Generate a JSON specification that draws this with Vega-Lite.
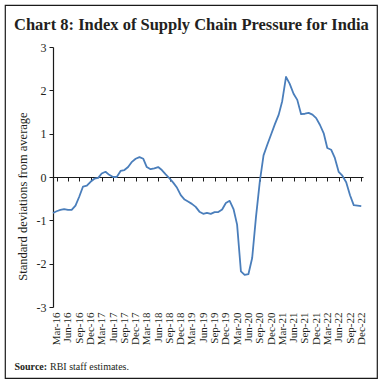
{
  "$schema": "https://vega.github.io/schema/vega-lite/v6.json",
  "width": 372,
  "height": 373,
  "autosize": {"type": "none"},
  "padding": {"left": 5, "top": 5, "right": 5, "bottom": 5},
  "background": "white",
  "config": {
    "view": {"stroke": "#1a1a1a", "strokeWidth": 1.2},
    "font": "Liberation Serif"
  },
  "title": {
    "text": "Chart 8: Index of Supply Chain Pressure for India",
    "anchor": "start",
    "frame": "group",
    "font": "Liberation Serif",
    "fontSize": 16.5,
    "fontWeight": "bold",
    "color": "#231f20",
    "baseline": "alphabetic",
    "offset": -41,
    "dx": 9
  },
  "data": {
    "values": [
      {"date": "2016-02-01", "value": -0.83},
      {"date": "2016-03-01", "value": -0.79},
      {"date": "2016-04-01", "value": -0.76},
      {"date": "2016-05-01", "value": -0.74},
      {"date": "2016-06-01", "value": -0.76},
      {"date": "2016-07-01", "value": -0.76},
      {"date": "2016-08-01", "value": -0.66},
      {"date": "2016-09-01", "value": -0.45},
      {"date": "2016-10-01", "value": -0.22},
      {"date": "2016-11-01", "value": -0.20},
      {"date": "2016-12-01", "value": -0.11},
      {"date": "2017-01-01", "value": -0.04},
      {"date": "2017-02-01", "value": -0.02},
      {"date": "2017-03-01", "value": 0.08},
      {"date": "2017-04-01", "value": 0.12},
      {"date": "2017-05-01", "value": 0.05},
      {"date": "2017-06-01", "value": 0.00},
      {"date": "2017-07-01", "value": 0.00},
      {"date": "2017-08-01", "value": 0.14},
      {"date": "2017-09-01", "value": 0.16},
      {"date": "2017-10-01", "value": 0.23},
      {"date": "2017-11-01", "value": 0.35},
      {"date": "2017-12-01", "value": 0.42},
      {"date": "2018-01-01", "value": 0.46},
      {"date": "2018-02-01", "value": 0.42},
      {"date": "2018-03-01", "value": 0.23},
      {"date": "2018-04-01", "value": 0.18},
      {"date": "2018-05-01", "value": 0.20},
      {"date": "2018-06-01", "value": 0.23},
      {"date": "2018-07-01", "value": 0.16},
      {"date": "2018-08-01", "value": 0.06},
      {"date": "2018-09-01", "value": -0.03},
      {"date": "2018-10-01", "value": -0.13},
      {"date": "2018-11-01", "value": -0.25},
      {"date": "2018-12-01", "value": -0.42},
      {"date": "2019-01-01", "value": -0.52},
      {"date": "2019-02-01", "value": -0.57},
      {"date": "2019-03-01", "value": -0.62},
      {"date": "2019-04-01", "value": -0.69},
      {"date": "2019-05-01", "value": -0.80},
      {"date": "2019-06-01", "value": -0.85},
      {"date": "2019-07-01", "value": -0.83},
      {"date": "2019-08-01", "value": -0.85},
      {"date": "2019-09-01", "value": -0.81},
      {"date": "2019-10-01", "value": -0.81},
      {"date": "2019-11-01", "value": -0.75},
      {"date": "2019-12-01", "value": -0.60},
      {"date": "2020-01-01", "value": -0.55},
      {"date": "2020-02-01", "value": -0.74},
      {"date": "2020-03-01", "value": -1.10},
      {"date": "2020-04-01", "value": -2.18},
      {"date": "2020-05-01", "value": -2.26},
      {"date": "2020-06-01", "value": -2.24},
      {"date": "2020-07-01", "value": -1.87},
      {"date": "2020-08-01", "value": -0.92},
      {"date": "2020-09-01", "value": -0.10},
      {"date": "2020-10-01", "value": 0.50},
      {"date": "2020-11-01", "value": 0.75},
      {"date": "2020-12-01", "value": 0.98},
      {"date": "2021-01-01", "value": 1.22},
      {"date": "2021-02-01", "value": 1.44},
      {"date": "2021-03-01", "value": 1.75},
      {"date": "2021-04-01", "value": 2.31},
      {"date": "2021-05-01", "value": 2.15},
      {"date": "2021-06-01", "value": 1.92},
      {"date": "2021-07-01", "value": 1.78},
      {"date": "2021-08-01", "value": 1.45},
      {"date": "2021-09-01", "value": 1.46},
      {"date": "2021-10-01", "value": 1.48},
      {"date": "2021-11-01", "value": 1.44},
      {"date": "2021-12-01", "value": 1.36},
      {"date": "2022-01-01", "value": 1.20},
      {"date": "2022-02-01", "value": 1.00},
      {"date": "2022-03-01", "value": 0.67},
      {"date": "2022-04-01", "value": 0.63},
      {"date": "2022-05-01", "value": 0.44},
      {"date": "2022-06-01", "value": 0.12},
      {"date": "2022-07-01", "value": 0.03},
      {"date": "2022-08-01", "value": -0.12},
      {"date": "2022-09-01", "value": -0.42},
      {"date": "2022-10-01", "value": -0.65},
      {"date": "2022-11-01", "value": -0.66},
      {"date": "2022-12-01", "value": -0.67}
    ]
  },
  "resolve": {"axis": {"x": "independent"}},
  "layer": [
    {
      "mark": {"type": "line", "strokeOpacity": 0},
      "encoding": {
        "x": {
          "field": "date",
          "type": "temporal",
          "scale": {
            "type": "utc",
            "domain": [{"year": 2016, "month": 2, "date": 1, "utc": true}, {"year": 2022, "month": 12, "date": 15, "utc": true}],
            "range": [48, 358]
          },
          "axis": {
            "orient": "bottom",
            "offset": -201,
            "values": [
              {"year": 2016, "month": 3, "date": 1, "utc": true}, {"year": 2016, "month": 6, "date": 1, "utc": true}, {"year": 2016, "month": 9, "date": 1, "utc": true}, {"year": 2016, "month": 12, "date": 1, "utc": true},
              {"year": 2017, "month": 3, "date": 1, "utc": true}, {"year": 2017, "month": 6, "date": 1, "utc": true}, {"year": 2017, "month": 9, "date": 1, "utc": true}, {"year": 2017, "month": 12, "date": 1, "utc": true},
              {"year": 2018, "month": 3, "date": 1, "utc": true}, {"year": 2018, "month": 6, "date": 1, "utc": true}, {"year": 2018, "month": 9, "date": 1, "utc": true}, {"year": 2018, "month": 12, "date": 1, "utc": true},
              {"year": 2019, "month": 3, "date": 1, "utc": true}, {"year": 2019, "month": 6, "date": 1, "utc": true}, {"year": 2019, "month": 9, "date": 1, "utc": true}, {"year": 2019, "month": 12, "date": 1, "utc": true},
              {"year": 2020, "month": 3, "date": 1, "utc": true}, {"year": 2020, "month": 6, "date": 1, "utc": true}, {"year": 2020, "month": 9, "date": 1, "utc": true}, {"year": 2020, "month": 12, "date": 1, "utc": true},
              {"year": 2021, "month": 3, "date": 1, "utc": true}, {"year": 2021, "month": 6, "date": 1, "utc": true}, {"year": 2021, "month": 9, "date": 1, "utc": true}, {"year": 2021, "month": 12, "date": 1, "utc": true},
              {"year": 2022, "month": 3, "date": 1, "utc": true}, {"year": 2022, "month": 6, "date": 1, "utc": true}, {"year": 2022, "month": 9, "date": 1, "utc": true}, {"year": 2022, "month": 12, "date": 1, "utc": true}
            ],
            "labels": false,
            "grid": false,
            "domain": true,
            "domainColor": "#1a1a1a",
            "domainWidth": 1.2,
            "ticks": true,
            "tickSize": 4,
            "tickColor": "#1a1a1a",
            "tickWidth": 1,
            "title": "RBI staff estimates.",
            "titleFont": "Liberation Serif",
            "titleFontSize": 10,
            "titleFontWeight": "normal",
            "titleColor": "#231f20",
            "titleAlign": "left",
            "titleBaseline": "alphabetic",
            "titleAngle": 0,
            "titleX": 44.5,
            "titleY": 192
          }
        },
        "y": {
          "field": "value",
          "type": "quantitative",
          "scale": {"domain": [-3, 3], "range": [302, 42], "nice": false, "zero": false},
          "axis": {
            "orient": "left",
            "offset": -48,
            "values": [-3, -2, -1, 0, 1, 2, 3],
            "labelExpr": "'' + datum.value",
            "labelFont": "Liberation Serif",
            "labelFontSize": 12,
            "labelColor": "#231f20",
            "labelPadding": 3,
            "grid": false,
            "domain": true,
            "domainColor": "#1a1a1a",
            "domainWidth": 1.2,
            "ticks": true,
            "tickSize": 4,
            "tickColor": "#1a1a1a",
            "title": "Standard deviations from average",
            "titleFont": "Liberation Serif",
            "titleFontSize": 12.5,
            "titleFontWeight": "normal",
            "titleColor": "#231f20",
            "titleAngle": 270,
            "titleAlign": "center",
            "titleBaseline": "middle",
            "titleX": -31,
            "titleY": 191
          }
        }
      }
    },
    {
      "mark": {"type": "line", "color": "#4a7ebb", "strokeWidth": 1.8, "strokeJoin": "round"},
      "encoding": {
        "x": {
          "field": "date",
          "type": "temporal",
          "axis": {
            "orient": "bottom",
            "offset": -71,
            "values": [
              {"year": 2016, "month": 3, "date": 1, "utc": true}, {"year": 2016, "month": 6, "date": 1, "utc": true}, {"year": 2016, "month": 9, "date": 1, "utc": true}, {"year": 2016, "month": 12, "date": 1, "utc": true},
              {"year": 2017, "month": 3, "date": 1, "utc": true}, {"year": 2017, "month": 6, "date": 1, "utc": true}, {"year": 2017, "month": 9, "date": 1, "utc": true}, {"year": 2017, "month": 12, "date": 1, "utc": true},
              {"year": 2018, "month": 3, "date": 1, "utc": true}, {"year": 2018, "month": 6, "date": 1, "utc": true}, {"year": 2018, "month": 9, "date": 1, "utc": true}, {"year": 2018, "month": 12, "date": 1, "utc": true},
              {"year": 2019, "month": 3, "date": 1, "utc": true}, {"year": 2019, "month": 6, "date": 1, "utc": true}, {"year": 2019, "month": 9, "date": 1, "utc": true}, {"year": 2019, "month": 12, "date": 1, "utc": true},
              {"year": 2020, "month": 3, "date": 1, "utc": true}, {"year": 2020, "month": 6, "date": 1, "utc": true}, {"year": 2020, "month": 9, "date": 1, "utc": true}, {"year": 2020, "month": 12, "date": 1, "utc": true},
              {"year": 2021, "month": 3, "date": 1, "utc": true}, {"year": 2021, "month": 6, "date": 1, "utc": true}, {"year": 2021, "month": 9, "date": 1, "utc": true}, {"year": 2021, "month": 12, "date": 1, "utc": true},
              {"year": 2022, "month": 3, "date": 1, "utc": true}, {"year": 2022, "month": 6, "date": 1, "utc": true}, {"year": 2022, "month": 9, "date": 1, "utc": true}, {"year": 2022, "month": 12, "date": 1, "utc": true}
            ],
            "format": "%b-%y",
            "labelAngle": 270,
            "labelAlign": "right",
            "labelBaseline": "middle",
            "labelFont": "Liberation Serif",
            "labelFontSize": 11,
            "labelColor": "#231f20",
            "labelPadding": 5,
            "labelOverlap": false,
            "labelFlush": false,
            "labelBound": false,
            "grid": false,
            "domain": false,
            "ticks": false,
            "tickSize": 0,
            "title": "Source:",
            "titleFont": "Liberation Serif",
            "titleFontSize": 10,
            "titleFontWeight": "bold",
            "titleColor": "#231f20",
            "titleAlign": "left",
            "titleBaseline": "alphabetic",
            "titleAngle": 0,
            "titleX": 9,
            "titleY": 62
          }
        },
        "y": {
          "field": "value",
          "type": "quantitative",
          "axis": {
            "orient": "left",
            "offset": -48,
            "values": [-3, -2, -1, 0, 1, 2, 3],
            "labelExpr": "'' + datum.value",
            "labelFont": "Liberation Serif",
            "labelFontSize": 12,
            "labelColor": "#231f20",
            "labelPadding": 3,
            "grid": false,
            "domain": true,
            "domainColor": "#1a1a1a",
            "domainWidth": 1.2,
            "ticks": true,
            "tickSize": 4,
            "tickColor": "#1a1a1a",
            "title": "Standard deviations from average",
            "titleFont": "Liberation Serif",
            "titleFontSize": 12.5,
            "titleFontWeight": "normal",
            "titleColor": "#231f20",
            "titleAngle": 270,
            "titleAlign": "center",
            "titleBaseline": "middle",
            "titleX": -31,
            "titleY": 191
          }
        }
      }
    }
  ]
}
